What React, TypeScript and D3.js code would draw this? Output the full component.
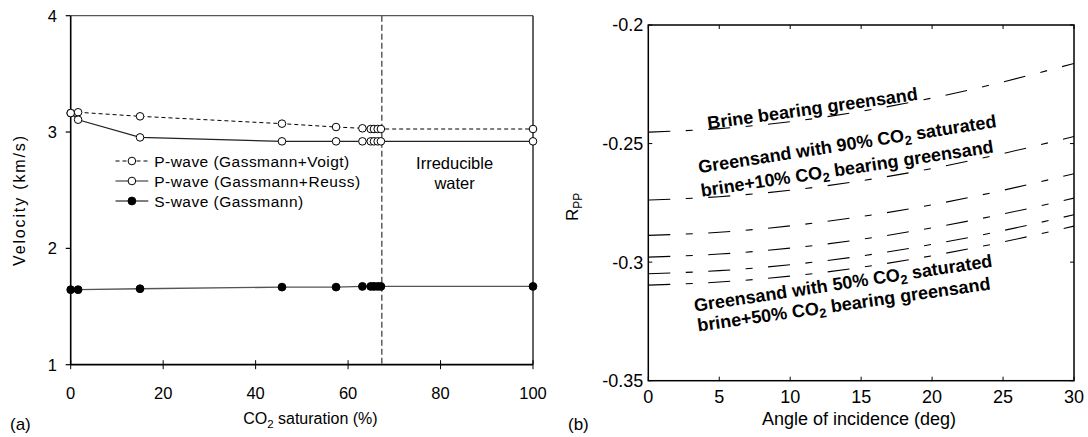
import React from 'react';
import * as d3 from 'd3';

// ---- Panel (a): velocity vs CO2 saturation ----
const saturation = [0, 1.6, 15, 45.7, 57.4, 63.1, 64.9, 65.6, 66.4, 67.1, 100];
const vpVoigt = [3.163, 3.17, 3.135, 3.072, 3.043, 3.032, 3.026, 3.026, 3.026, 3.026, 3.026];
const vpReuss = [3.163, 3.106, 2.954, 2.92, 2.92, 2.92, 2.92, 2.92, 2.92, 2.92, 2.92];
const vsGassmann = [1.645, 1.645, 1.653, 1.667, 1.667, 1.673, 1.673, 1.673, 1.673, 1.673, 1.673];
const irreducibleSat = 67.3;
const satTicks = [0, 20, 40, 60, 80, 100];
const velTicks = [1, 2, 3, 4];

// ---- Panel (b): P-P reflection coefficient vs angle ----
const angles = [0, 5, 10, 15, 20, 25, 30];
const rppBrine = [-0.2452, -0.2437, -0.2408, -0.2364, -0.2308, -0.224, -0.2162];
const rpp90 = [-0.2738, -0.2724, -0.2697, -0.2657, -0.2605, -0.2542, -0.247];
const rppMix1 = [-0.2887, -0.2874, -0.2847, -0.2808, -0.2758, -0.2697, -0.2627];
const rppMix2 = [-0.2979, -0.2966, -0.2941, -0.2904, -0.2855, -0.2797, -0.273];
const rppMix3 = [-0.3049, -0.3036, -0.3011, -0.2974, -0.2925, -0.2867, -0.28];
const rpp50 = [-0.3097, -0.3084, -0.3059, -0.3022, -0.2973, -0.2915, -0.2848];
const angleTicks = [0, 5, 10, 15, 20, 25, 30];
const rppTicks = [-0.35, -0.3, -0.25, -0.2];

const FONT = "'Liberation Sans', Arial, Helvetica, sans-serif";

export default function App() {
  // scales
  const xa = d3.scaleLinear().domain([0, 100]).range([70.7, 533]);
  const ya = d3.scaleLinear().domain([1, 4]).range([364.7, 15.7]);
  const xb = d3.scaleLinear().domain([0, 30]).range([648.3, 1074]);
  const yb = d3.scaleLinear().domain([-0.35, -0.2]).range([380.7, 25]);

  const lineA = (ys: number[]) =>
    d3.line<number>().x((_, i) => xa(saturation[i])).y((v) => ya(v))(ys) as string;
  const lineB = (ys: number[]) =>
    d3
      .line<number>()
      .x((_, i) => xb(angles[i]))
      .y((v) => yb(v))
      .curve(d3.curveMonotoneX)(ys) as string;

  const rppCurves = [rppBrine, rpp90, rppMix1, rppMix2, rppMix3, rpp50];

  const [ax0, ax1] = xa.range();
  const [ay1, ay0] = ya.range();
  const [bx0, bx1] = xb.range();
  const [by1, by0] = yb.range();

  // legend geometry (panel a)
  const legX0 = 115.5;
  const legX1 = 148.3;
  const legMid = (legX0 + legX1) / 2;
  const legTextX = 154.2;
  const legRows = [161, 181, 201];

  return (
    <svg
      width={1088}
      height={437}
      style={{ position: 'absolute', left: 0, top: 0, background: '#fff' }}
      fontFamily={FONT}
    >
      <rect x={0} y={0} width={1088} height={437} fill="#fff" />

      {/* ===== Panel (a) ===== */}
      <g>
        {/* frame */}
        <line x1={ax0} y1={ay0} x2={ax1} y2={ay0} stroke="#555" strokeWidth={1.2} />
        <line x1={ax1} y1={ay0} x2={ax1} y2={ay1} stroke="#222" strokeWidth={1.4} />
        <line x1={ax0} y1={ay0} x2={ax0} y2={ay1} stroke="#000" strokeWidth={1.6} />
        <line x1={ax0} y1={ay1} x2={ax1} y2={ay1} stroke="#000" strokeWidth={1.8} />

        {/* y ticks */}
        {velTicks.map((t) => (
          <g key={'vy' + t}>
            <line x1={ax0 - 5} x2={ax0} y1={ya(t)} y2={ya(t)} stroke="#000" strokeWidth={1.2} />
            <text x={57} y={ya(t)} dy="0.36em" textAnchor="end" fontSize={16.5} fill="#000">
              {t}
            </text>
          </g>
        ))}
        {/* x ticks */}
        {satTicks.map((t) => (
          <g key={'sx' + t}>
            <line x1={xa(t)} x2={xa(t)} y1={ay1 - 4.5} y2={ay1 + 4.5} stroke="#000" strokeWidth={1} />
            <text x={xa(t)} y={399} textAnchor="middle" fontSize={16.5} fill="#000">
              {t}
            </text>
          </g>
        ))}

        {/* irreducible water boundary */}
        <line
          x1={xa(irreducibleSat)}
          x2={xa(irreducibleSat)}
          y1={ay0}
          y2={ay1}
          stroke="#444"
          strokeWidth={1.3}
          strokeDasharray="6 3"
        />
        <text x={454.6} y={168.5} textAnchor="middle" fontSize={16.5} fill="#000">
          Irreducible
        </text>
        <text x={454.6} y={188.5} textAnchor="middle" fontSize={16.5} fill="#000">
          water
        </text>

        {/* series lines */}
        <path d={lineA(vpVoigt)} fill="none" stroke="#000" strokeWidth={1} strokeDasharray="4 3" />
        <path d={lineA(vpReuss)} fill="none" stroke="#222" strokeWidth={1.2} />
        <path d={lineA(vsGassmann)} fill="none" stroke="#555" strokeWidth={1.4} />

        {/* markers */}
        {vpVoigt.map((v, i) => (
          <circle key={'mv' + i} cx={xa(saturation[i])} cy={ya(v)} r={3.8} fill="#fff" stroke="#000" strokeWidth={1} />
        ))}
        {vpReuss.map((v, i) => (
          <circle key={'mr' + i} cx={xa(saturation[i])} cy={ya(v)} r={3.8} fill="#fff" stroke="#000" strokeWidth={1} />
        ))}
        {vsGassmann.map((v, i) => (
          <circle key={'ms' + i} cx={xa(saturation[i])} cy={ya(v)} r={3.9} fill="#000" stroke="#000" strokeWidth={1} />
        ))}

        {/* legend */}
        <line x1={legX0} x2={legX1} y1={legRows[0]} y2={legRows[0]} stroke="#000" strokeWidth={1} strokeDasharray="4 3" />
        <circle cx={legMid} cy={legRows[0]} r={3.8} fill="#fff" stroke="#000" strokeWidth={1} />
        <text x={legTextX} y={legRows[0]} dy="0.36em" fontSize={15.5} textLength={195} lengthAdjust="spacing" fill="#000">
          P-wave (Gassmann+Voigt)
        </text>
        <line x1={legX0} x2={legX1} y1={legRows[1]} y2={legRows[1]} stroke="#222" strokeWidth={1.2} />
        <circle cx={legMid} cy={legRows[1]} r={3.8} fill="#fff" stroke="#000" strokeWidth={1} />
        <text x={legTextX} y={legRows[1]} dy="0.36em" fontSize={15.5} textLength={206} lengthAdjust="spacing" fill="#000">
          P-wave (Gassmann+Reuss)
        </text>
        <line x1={legX0} x2={legX1} y1={legRows[2]} y2={legRows[2]} stroke="#555" strokeWidth={1.4} />
        <circle cx={legMid} cy={legRows[2]} r={3.9} fill="#000" stroke="#000" strokeWidth={1} />
        <text x={legTextX} y={legRows[2]} dy="0.36em" fontSize={15.5} textLength={149} lengthAdjust="spacing" fill="#000">
          S-wave (Gassmann)
        </text>

        {/* axis titles */}
        <text
          transform={`translate(25, 201) rotate(-90)`}
          textAnchor="middle"
          fontSize={16}
          textLength={130}
          lengthAdjust="spacing"
          fill="#000"
        >
          Velocity (km/s)
        </text>
        <text x={310.4} y={424} textAnchor="middle" fontSize={16} fill="#000">
          CO<tspan fontSize={11.5} dy={4}>2</tspan>
          <tspan dy={-4}>{' saturation (%)'}</tspan>
        </text>
        <text x={10} y={429.5} fontSize={17} fill="#000">
          (a)
        </text>
      </g>

      {/* ===== Panel (b) ===== */}
      <g>
        <defs>
          <clipPath id="clipB">
            <rect x={bx0} y={by0} width={bx1 - bx0} height={by1 - by0} />
          </clipPath>
        </defs>

        {/* curves */}
        <g clipPath="url(#clipB)">
          {rppCurves.map((c, i) => (
            <path
              key={'rc' + i}
              d={lineB(c)}
              fill="none"
              stroke="#000"
              strokeWidth={1.1}
              strokeDasharray="22 15.5 7 15.5"
            />
          ))}
        </g>

        {/* frame */}
        <rect x={bx0} y={by0} width={bx1 - bx0} height={by1 - by0} fill="none" stroke="#000" strokeWidth={1.5} />

        {/* ticks (inward, all sides) */}
        {angleTicks.map((t) => (
          <g key={'ax' + t}>
            <line x1={xb(t)} x2={xb(t)} y1={by1} y2={by1 - 4} stroke="#000" strokeWidth={1} />
            <line x1={xb(t)} x2={xb(t)} y1={by0} y2={by0 + 4} stroke="#000" strokeWidth={1} />
            <text x={xb(t)} y={403} textAnchor="middle" fontSize={18} fill="#000">
              {t}
            </text>
          </g>
        ))}
        {rppTicks.map((t) => (
          <g key={'ry' + t}>
            <line x1={bx0} x2={bx0 + 4} y1={yb(t)} y2={yb(t)} stroke="#000" strokeWidth={1} />
            <line x1={bx1} x2={bx1 - 4} y1={yb(t)} y2={yb(t)} stroke="#000" strokeWidth={1} />
            <text x={643.3} y={yb(t)} dy="0.36em" textAnchor="end" fontSize={18} fill="#000">
              {t}
            </text>
          </g>
        ))}

        {/* curve annotations */}
        <g fontWeight="bold" fontSize={18} fill="#000">
          <text transform={`translate(${xb(4.23)}, ${yb(-0.244)}) rotate(-8)`}>Brine bearing greensand</text>
          <text transform={`translate(${xb(3.59)}, ${yb(-0.2625)}) rotate(-8.8)`}>
            Greensand with 90% CO<tspan fontSize={13} dy={4}>2</tspan>
            <tspan dy={-4}>{' saturated'}</tspan>
          </text>
          <text transform={`translate(${xb(3.76)}, ${yb(-0.2724)}) rotate(-8.6)`}>
            brine+10% CO<tspan fontSize={13} dy={4}>2</tspan>
            <tspan dy={-4}>{' bearing greensand'}</tspan>
          </text>
          <text transform={`translate(${xb(3.29)}, ${yb(-0.3209)}) rotate(-8.6)`}>
            Greensand with 50% CO<tspan fontSize={13} dy={4}>2</tspan>
            <tspan dy={-4}>{' saturated'}</tspan>
          </text>
          <text transform={`translate(${xb(3.52)}, ${yb(-0.3293)}) rotate(-8.2)`}>
            brine+50% CO<tspan fontSize={13} dy={4}>2</tspan>
            <tspan dy={-4}>{' bearing greensand'}</tspan>
          </text>
        </g>

        {/* axis titles */}
        <text transform={`translate(578, ${(by0 + by1) / 2 + 4}) rotate(-90)`} textAnchor="middle" fontSize={17} fill="#000">
          R<tspan fontSize={12} dy={4}>PP</tspan>
        </text>
        <text x={859} y={425} textAnchor="middle" fontSize={18} fill="#000">
          Angle of incidence (deg)
        </text>
        <text x={568} y={430} fontSize={17} fill="#000">
          (b)
        </text>
      </g>
    </svg>
  );
}
